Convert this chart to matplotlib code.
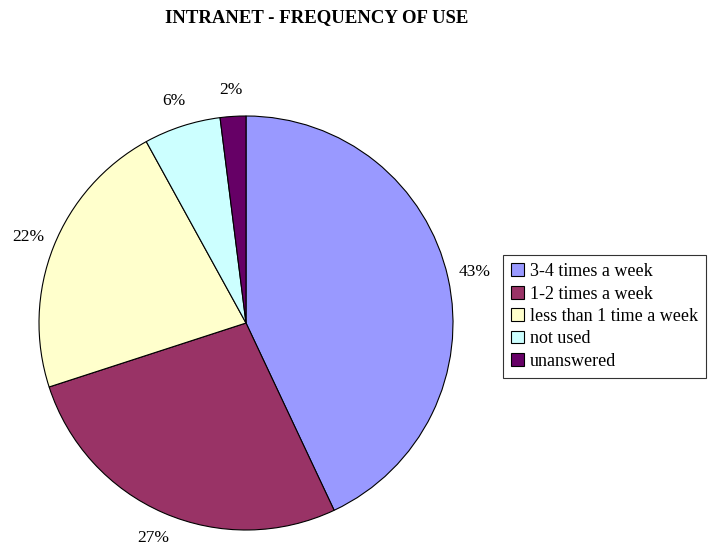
import matplotlib
matplotlib.use("Agg")
import matplotlib.pyplot as plt

plt.rcParams['font.family'] = ['Liberation Serif', 'DejaVu Serif']

categories = ['3-4 times a week', '1-2 times a week', 'less than 1 time a week', 'not used', 'unanswered']
values = [43, 27, 22, 6, 2]
colors = ['#9999FF', '#993366', '#FFFFCC', '#CCFFFF', '#660066']

fig = plt.figure(figsize=(7.14, 5.47), dpi=100)
fig.text(317/714, 0.968, 'INTRANET - FREQUENCY OF USE', ha='center', va='center',
         fontsize=13.5, fontweight='bold')

ax = fig.add_axes([39/714, 17/547, 414/714, 414/547])
wedges, texts = ax.pie(values, colors=colors, startangle=90, counterclock=False,
                       radius=1.0, labels=['%d%%' % v for v in values], labeldistance=1.13,
                       wedgeprops=dict(edgecolor='black', linewidth=0.8),
                       textprops=dict(fontsize=12.5))
for t in texts:
    t.set_ha('center')
    t.set_va('center')
ax.set_xlim(-1, 1)
ax.set_ylim(-1, 1)
ax.set_aspect('equal')
ax.axis('off')

leg = fig.legend(wedges, categories, loc='upper left',
                 bbox_to_anchor=(503/714, 1 - 255/547), fontsize=13,
                 frameon=True, fancybox=False, edgecolor='black',
                 handlelength=0.7, handleheight=0.7, handletextpad=0.35,
                 labelspacing=0.3, borderpad=0.45, borderaxespad=0)
leg.get_frame().set_linewidth(0.8)

fig.savefig('out.png', dpi=100)
